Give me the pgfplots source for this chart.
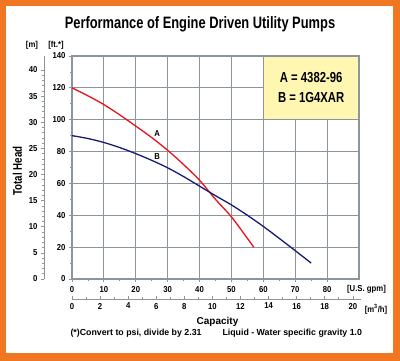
\documentclass[border=0pt]{standalone}
\usepackage{pgfplots}
\pgfplotsset{compat=1.18}
\usepackage{fontspec}
\setmainfont{Liberation Sans}
\newfontfamily\condfont{Liberation Sans}[FakeStretch=0.78]
\newfontfamily\semifont{Liberation Sans}[FakeStretch=0.9]
\definecolor{frameorange}{RGB}{240,118,34}
\definecolor{gridgray}{RGB}{140,148,156}
\definecolor{legyellow}{RGB}{255,246,178}
\definecolor{curvered}{RGB}{232,18,28}
\definecolor{curveblue}{RGB}{22,28,118}
\newcommand\tickfont{\semifont\bfseries\fontsize{8.6}{9}\selectfont}
\begin{document}
\begin{tikzpicture}
\useasboundingbox (0pt,0pt) rectangle (400pt,361pt);
\fill[frameorange] (0pt,0pt) rectangle (400pt,361pt);
\fill[white] (6pt,8pt) rectangle (393pt,355pt);
% main axis
\begin{axis}[
  at={(72pt,82pt)}, anchor=south west,
  scale only axis, width=287pt, height=223pt,
  xmin=0, xmax=90, ymin=0, ymax=140,
  xtick={0,10,...,80}, ytick={0,20,...,140},
  minor x tick num=1, minor y tick num=1,
  grid=major,
  major grid style={gridgray, line width=1.1pt},
  axis line style={gridgray, line width=1.1pt},
  tick style={gridgray, line width=0.8pt},
  tick align=outside,
  major tick length=3pt, minor tick length=2pt,
  xtick pos=bottom, ytick pos=left,
  /pgf/number format/assume math mode=true,
  tick label style={font=\tickfont, black},
  xticklabel style={yshift=-1pt},
  clip=false,
]
\fill[legyellow] (axis cs:60,100) rectangle (axis cs:90,140);
\draw[gridgray, line width=1.1pt] (axis cs:60,140) -- (axis cs:60,100) -- (axis cs:90,100) -- (axis cs:90,140) -- (axis cs:60,140);
\node[font=\condfont\bfseries\fontsize{14.5}{16}\selectfont] at (axis cs:75,126.5) {A = 4382-96};
\node[font=\condfont\bfseries\fontsize{14.5}{16}\selectfont] at (axis cs:75,114) {B = 1G4XAR};
\addplot[curvered, line width=1.3pt, smooth] coordinates {
 (0,120) (5,115) (10,109.5) (15,103) (20,96) (25,88.8) (30,80.8) (35,71.8) (40,62) (45,50) (50,39) (55,25.5) (57,20)};
\addplot[curveblue, line width=1.3pt, smooth] coordinates {
 (0,90) (5,88.2) (10,85.7) (15,82.5) (20,78.7) (25,74.5) (30,69.8) (35,64.3) (40,58.3) (45,52.3) (50,46.5) (55,40) (60,33) (65,25.5) (70,17.8) (75,10)};
\node[font=\tickfont] at (axis cs:26.7,91.6) {A};
\node[font=\tickfont] at (axis cs:26.7,76.6) {B};
\end{axis}
% metre axis
\begin{axis}[
  at={(44pt,82pt)}, anchor=south west,
  scale only axis, width=20pt, height=223pt,
  xmin=0, xmax=1, ymin=0, ymax=42.672,
  axis y line=left, axis x line=none,
  y axis line style={-, gridgray, line width=0.8pt},
  every inner y axis line/.append style={-},
  every outer y axis line/.append style={-},
  ytick={0,5,...,40}, minor y tick num=4,
  tick style={gridgray, line width=0.6pt},
  tick align=outside,
  major tick length=3pt, minor tick length=1.8pt,
  /pgf/number format/assume math mode=true,
  tick label style={font=\tickfont, black},
]
\end{axis}
% m3/h axis
\begin{axis}[
  at={(72pt,62pt)}, anchor=south west,
  scale only axis, width=289pt, height=20pt,
  xmin=0, xmax=20.583, ymin=0, ymax=1,
  axis x line=bottom, axis y line=none,
  x axis line style={-, gridgray, line width=0.8pt},
  every inner x axis line/.append style={-},
  every outer x axis line/.append style={-},
  xtick={0,2,...,20}, minor x tick num=1,
  tick style={gridgray, line width=0.6pt},
  tick align=inside,
  major tick length=2.5pt, minor tick length=1.8pt,
  /pgf/number format/assume math mode=true,
  tick label style={font=\tickfont, black},
  xticklabel style={yshift=-0.5pt},
]
\end{axis}
% texts
\node[font=\condfont\bfseries\fontsize{16.5}{18}\selectfont] at (200pt,337pt) {Performance of Engine Driven Utility Pumps};
\node[font=\tickfont] at (32pt,315.5pt) {[m]};
\node[font=\tickfont] at (56pt,315.5pt) {[ft.*]};
\node[font=\condfont\bfseries\fontsize{12.5}{13}\selectfont, rotate=90] at (17.5pt,190pt) {Total Head};
\node[font=\tickfont] at (366.5pt,72pt) {[U.S. gpm]};
\node[font=\tickfont] at (376pt,52pt) {[m\textsuperscript{3}/h]};
\node[font=\bfseries\fontsize{10}{11}\selectfont] at (217.5pt,39.5pt) {Capacity};
\node[font=\bfseries\fontsize{8.8}{9}\selectfont, anchor=west] at (67pt,28pt) {(*)Convert to psi, divide by 2.31};
\node[font=\bfseries\fontsize{8.8}{9}\selectfont, anchor=west] at (219pt,28pt) {Liquid - Water specific gravity 1.0};
\end{tikzpicture}
\end{document}
